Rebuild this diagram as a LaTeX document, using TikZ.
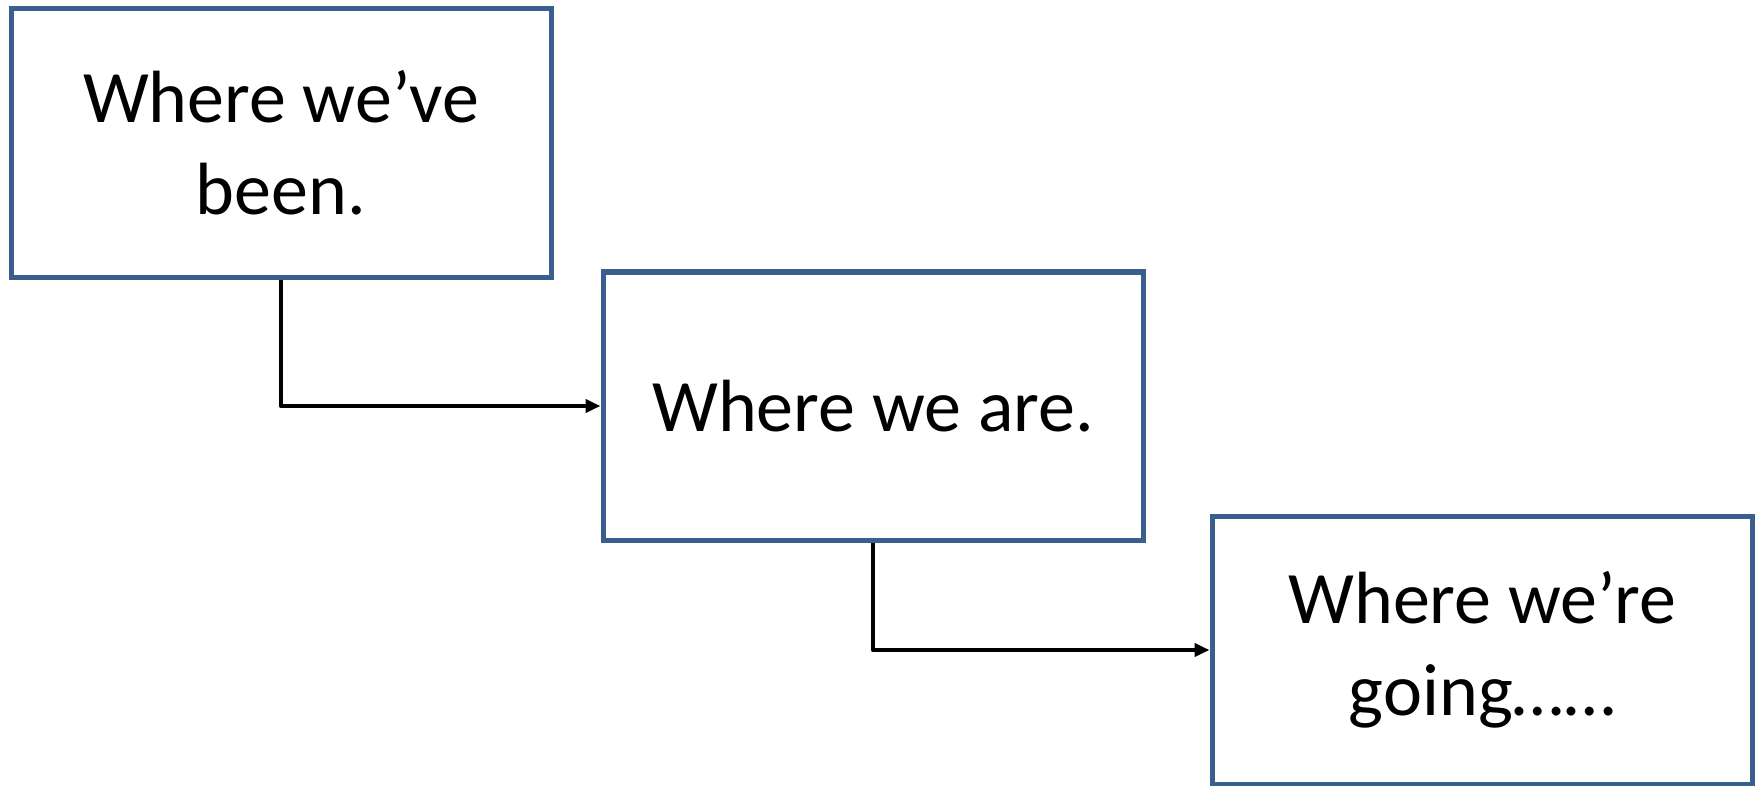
\documentclass[tikz,border=0pt]{standalone}
\usepackage{fontspec}
\setmainfont{Carlito}
\usetikzlibrary{arrows.meta}
\definecolor{boxblue}{HTML}{3A5F8F}
\tikzset{
  stagebox/.style={draw=boxblue, line width=5pt, minimum width=540pt, minimum height=268pt,
    align=center, inner sep=0pt, font=\fontsize{74}{92}\selectfont},
  link/.style={draw=black, line width=4.2pt, line join=round,
    -{Triangle[length=15pt,width=13pt]}}
}
\begin{document}
\begin{tikzpicture}[x=1pt,y=-1pt]
\useasboundingbox (0,0) rectangle (1763,786);
\node[stagebox] (been) at (281,143) {Where we’ve\\been.};
\node[stagebox] (are) at (873,406) {Where we are.};
\node[stagebox] (going) at (1482,650) {Where we’re\\going……};
\draw[link] (been.south) |- (are.west);
\draw[link] (are.south) |- (going.west);
\end{tikzpicture}
\end{document}
